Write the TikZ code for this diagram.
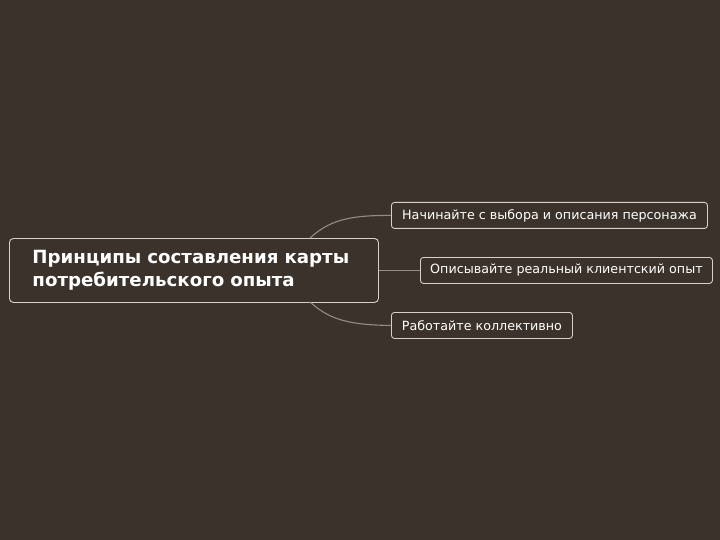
\documentclass[tikz,border=0pt]{standalone}
\usepackage{fontspec}
\setmainfont{DejaVu Sans}
\definecolor{bg}{HTML}{3B332B}
\definecolor{boxline}{HTML}{D9D1C5}
\definecolor{conn}{HTML}{948D85}
\begin{document}
\begin{tikzpicture}[x=1pt,y=-1pt,
  mainbox/.style={draw=boxline,line width=0.9pt,rounded corners=4pt,fill=bg,text=white,font=\bfseries\fontsize{18.2}{22.5}\selectfont,align=left,inner xsep=23pt,inner ysep=0pt,anchor=north west},
  subbox/.style={draw=boxline,line width=0.9pt,rounded corners=3pt,fill=bg,text=white,font=\fontsize{12.7}{15}\selectfont,inner sep=0pt,anchor=north west},
  link/.style={draw=conn,line width=1.1pt}]
\fill[bg] (0,0) rectangle (720,540);
\useasboundingbox (0,0) rectangle (720,540);
\node[mainbox,minimum width=369pt,minimum height=64pt,text width=323pt] (c) at (9,238) {\raisebox{-1pt}{Принципы составления карты}\\\raisebox{-1pt}{потребительского опыта}};
\node[subbox,minimum width=316pt,minimum height=26pt] (a) at (391,202) {Начинайте с выбора и описания персонажа};
\node[subbox,minimum width=292pt,minimum height=26pt] (b) at (420,257) {Описывайте реальный клиентский опыт};
\node[subbox,minimum width=181pt,minimum height=26pt] (d) at (391,312) {Работайте коллективно};
\coordinate (ct) at (310,238);
\coordinate (cb) at (310,302);
\draw[link] (ct) .. controls (328,222) and (345,215) .. (a.west);
\draw[link] (cb) .. controls (328,318) and (345,325) .. (d.west);
\draw[link] (c.east) -- (b.west);
\end{tikzpicture}
\end{document}
